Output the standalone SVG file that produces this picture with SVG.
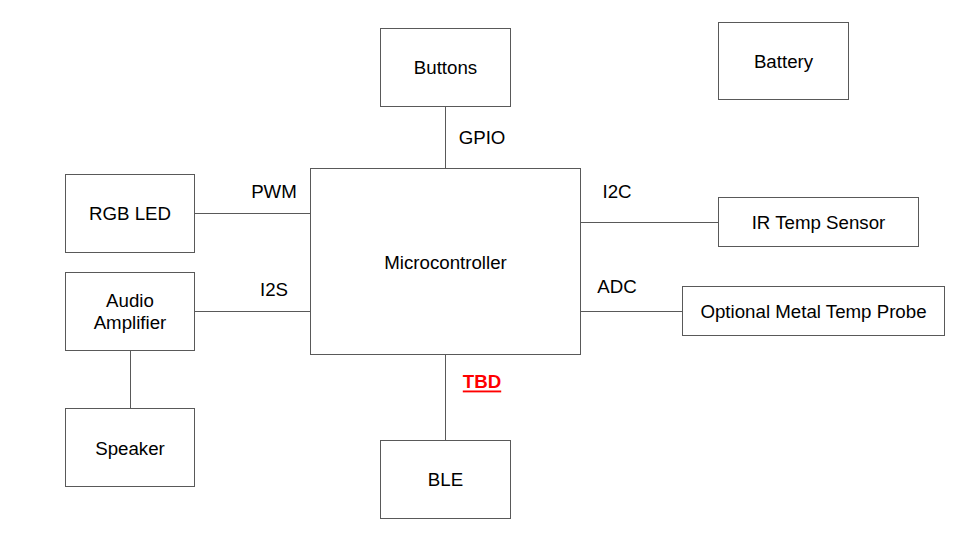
<svg xmlns="http://www.w3.org/2000/svg" width="960" height="540" viewBox="0 0 960 540">
<style>
.box{fill:#ffffff;stroke:#595959;stroke-width:1}
.ln{stroke:#595959;stroke-width:1;fill:none}
text{font-family:"Liberation Sans",Arial,sans-serif;font-size:18.7px;fill:#000000;text-anchor:middle;dominant-baseline:central}
.tbd{fill:#ff0000;font-weight:bold;text-decoration:underline}
</style>
<rect width="960" height="540" fill="#ffffff"/>
<g id="connectors">
<line class="ln" x1="445.5" y1="106" x2="445.5" y2="168"/>
<line class="ln" x1="194" y1="213.5" x2="310" y2="213.5"/>
<line class="ln" x1="194" y1="311.5" x2="310" y2="311.5"/>
<line class="ln" x1="580" y1="222.5" x2="718" y2="222.5"/>
<line class="ln" x1="580" y1="311.5" x2="682" y2="311.5"/>
<line class="ln" x1="445.5" y1="354" x2="445.5" y2="440"/>
<line class="ln" x1="130.5" y1="350" x2="130.5" y2="408"/>
<text x="482" y="137">GPIO</text>
<text x="274" y="191">PWM</text>
<text x="274" y="289">I2S</text>
<text x="617" y="191">I2C</text>
<text x="617" y="286">ADC</text>
<text class="tbd" x="482" y="381">TBD</text>
</g>
<g id="buttons"><rect class="box" x="380.5" y="28.5" width="130" height="78"/><text x="445.5" y="67">Buttons</text></g>
<g id="battery"><rect class="box" x="718.5" y="22.5" width="130" height="77"/><text x="783.5" y="61">Battery</text></g>
<g id="rgb-led"><rect class="box" x="65.5" y="174.5" width="129" height="78"/><text x="130" y="213">RGB LED</text></g>
<g id="microcontroller"><rect class="box" x="310.5" y="168.5" width="270" height="186"/><text x="445.5" y="262">Microcontroller</text></g>
<g id="ir-temp-sensor"><rect class="box" x="718.5" y="197.5" width="200" height="49"/><text x="818.5" y="222">IR Temp Sensor</text></g>
<g id="audio-amplifier"><rect class="box" x="65.5" y="272.5" width="129" height="78"/><text x="130" y="300">Audio</text><text x="130" y="322">Amplifier</text></g>
<g id="metal-temp-probe"><rect class="box" x="682.5" y="286.5" width="262" height="49"/><text x="813.5" y="311">Optional Metal Temp Probe</text></g>
<g id="speaker"><rect class="box" x="65.5" y="408.5" width="129" height="78"/><text x="130" y="448">Speaker</text></g>
<g id="ble"><rect class="box" x="380.5" y="440.5" width="130" height="78"/><text x="445.5" y="479">BLE</text></g>
</svg>
